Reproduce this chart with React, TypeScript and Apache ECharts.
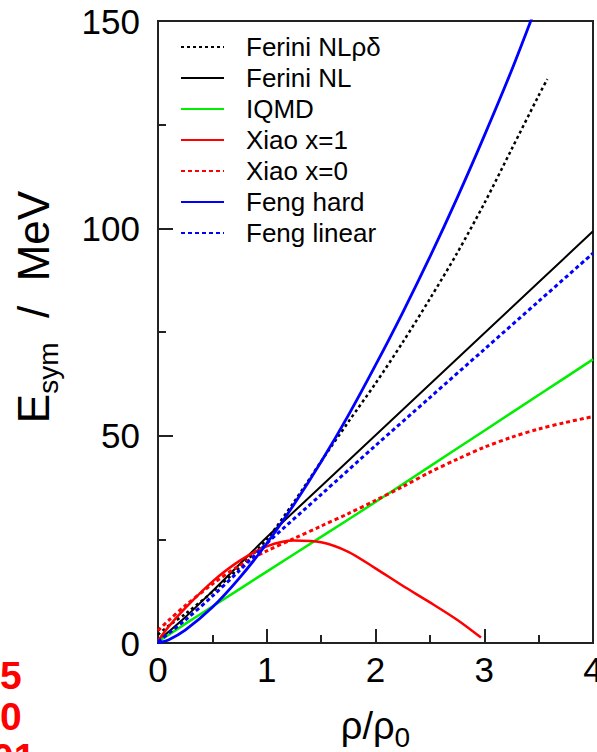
import React, { useEffect, useRef } from "react";
import * as echarts from "echarts";

const FONT = '"Liberation Sans", Arial, Helvetica, sans-serif';

const legendNames = ["Ferini NLρδ", "Ferini NL", "IQMD", "Xiao x=1", "Xiao x=0", "Feng hard", "Feng linear"];

const rhoFeriniRD = [0, 0.1, 0.25, 0.5, 0.75, 1, 1.25, 1.5, 1.75, 2, 2.25, 2.5, 2.75, 3, 3.25, 3.5, 3.58];
const eFeriniRD = [2, 4.2, 7, 12.3, 18.2, 25, 34, 43.8, 53.3, 62.6, 72.5, 83, 94, 106, 119, 132, 136];

const rhoFeriniNL = [0, 0.25, 0.5, 0.75, 1, 1.5, 2, 2.5, 3, 3.5, 4];
const eFeriniNL = [0.5, 6.2, 12.5, 19, 25.5, 37.8, 50.1, 62.4, 74.7, 87, 99.3];

const rhoIQMD = [0, 0.25, 0.5, 1, 1.5, 2, 2.5, 3, 3.5, 4];
const eIQMD = [0.3, 4.6, 8.8, 17.2, 25.6, 34, 42.6, 51.2, 59.8, 68.4];

const rhoXiao1 = [0, 0.1, 0.25, 0.5, 0.75, 1, 1.25, 1.5, 1.75, 2, 2.25, 2.5, 2.75, 2.97];
const eXiao1 = [0.5, 4, 8.4, 14.8, 19.8, 23.3, 24.7, 24.3, 22, 18, 13.8, 9.8, 5.6, 1.3];

const rhoXiao0 = [0, 0.1, 0.25, 0.5, 0.75, 1, 1.25, 1.5, 1.75, 2, 2.25, 2.5, 2.75, 3, 3.25, 3.5, 3.75, 4];
const eXiao0 = [3, 5.5, 9, 14.2, 18.7, 22.2, 25.2, 28.2, 31.2, 34.4, 37.7, 41.2, 44.3, 47.2, 49.6, 51.6, 53.2, 54.6];

const rhoFengHard = [0, 0.1, 0.25, 0.5, 0.75, 1, 1.25, 1.5, 1.75, 2, 2.25, 2.5, 2.75, 3, 3.25, 3.5];
const eFengHard = [0, 0.8, 3.1, 8.6, 15.7, 24, 33.4, 43.7, 54.9, 67, 79.7, 93.1, 107.3, 122.3, 138, 155];

const rhoFengLin = [0, 0.25, 0.5, 0.75, 1, 1.5, 2, 2.5, 3, 3.5, 4];
const eFengLin = [0.3, 5.5, 11.3, 17.5, 24, 35.8, 47.6, 59.2, 70.8, 82.4, 94];

const sideLabels = ["5", "0", "01"];

const zip = (xs: number[], ys: number[]) => xs.map((x, i) => [x, ys[i]]);

export default function App() {
  const ref = useRef<HTMLDivElement>(null);
  useEffect(() => {
    if (!ref.current) return;
    const chart = echarts.init(ref.current, undefined, { renderer: "svg" });
    const mk = (name: string, xs: number[], ys: number[], color: string, type: any, width: number) => ({
      name,
      type: "line",
      data: zip(xs, ys),
      symbol: "none",
      showSymbol: false,
      smooth: 0.3,
      clip: true,
      lineStyle: { color, type, width, cap: "butt" },
      itemStyle: { color },
    });
    chart.setOption({
      animation: false,
      backgroundColor: "#fff",
      grid: {
        left: 158,
        top: 21,
        width: 435,
        height: 622,
        show: true,
        borderColor: "#222",
        borderWidth: 2,
        backgroundColor: "transparent",
        containLabel: false,
        outerBoundsMode: "none",
      },
      legend: {
        orient: "vertical",
        left: 180,
        top: 34,
        padding: 0,
        itemWidth: 43,
        itemHeight: 12,
        itemGap: 5,
        data: legendNames,
        itemStyle: { opacity: 0 },
        textStyle: { fontSize: 26, fontFamily: FONT, color: "#000", lineHeight: 26, padding: [0, 0, 0, 17] },
      },
      xAxis: {
        type: "value",
        min: 0,
        max: 4,
        interval: 1,
        name: "{a|ρ/ρ}{b|0}",
        nameLocation: "middle",
        nameGap: 58,
        nameTextStyle: {
          rich: {
            a: { fontSize: 38, fontFamily: FONT, color: "#000" },
            b: { fontSize: 28, fontFamily: FONT, color: "#000", padding: [22, 0, 0, 0] },
          },
        },
        axisLine: { show: false },
        axisTick: { show: true, inside: true, length: 14, lineStyle: { color: "#222", width: 2 } },
        minorTick: { show: true, splitNumber: 2, length: 8, lineStyle: { color: "#222", width: 2 } },
        splitLine: { show: false },
        axisLabel: { fontSize: 35, fontFamily: FONT, color: "#000", margin: 9 },
      },
      yAxis: {
        type: "value",
        min: 0,
        max: 150,
        interval: 50,
        name: "{e|E}{b|sym}{a|  /  MeV}",
        nameLocation: "middle",
        nameGap: 96,
        nameTextStyle: {
          rich: {
            e: { fontSize: 44, fontFamily: FONT, color: "#000", padding: [0, 0, 0, 50] },
            a: { fontSize: 44, fontFamily: FONT, color: "#000" },
            b: { fontSize: 28, fontFamily: FONT, color: "#000", padding: [30, 0, 0, 0] },
          },
        },
        axisLine: { show: false },
        axisTick: { show: true, inside: true, length: 15, lineStyle: { color: "#222", width: 2 } },
        minorTick: { show: true, splitNumber: 2, length: 8, lineStyle: { color: "#222", width: 2 } },
        splitLine: { show: false },
        axisLabel: { fontSize: 35, fontFamily: FONT, color: "#000", margin: 18 },
      },
      graphic: sideLabels.map((t, i) => ({
        type: "text",
        x: i === 2 ? -8 : 0,
        y: 675 + i * 41,
        style: { text: t, fill: "#ff0000", font: `bold 39px ${FONT}`, textAlign: "left", textVerticalAlign: "middle" },
      })),
      series: [
        mk(legendNames[0], rhoFeriniRD, eFeriniRD, "#000000", [3, 3], 2.5),
        mk(legendNames[1], rhoFeriniNL, eFeriniNL, "#000000", "solid", 2),
        mk(legendNames[2], rhoIQMD, eIQMD, "#00ee00", "solid", 2.5),
        mk(legendNames[3], rhoXiao1, eXiao1, "#ff0000", "solid", 2.5),
        mk(legendNames[4], rhoXiao0, eXiao0, "#ff0000", [4, 3], 3),
        mk(legendNames[5], rhoFengHard, eFengHard, "#0000ff", "solid", 2.8),
        mk(legendNames[6], rhoFengLin, eFengLin, "#0000ff", [4, 3], 3),
      ],
    });
    return () => chart.dispose();
  }, []);
  return <div ref={ref} style={{ position: "fixed", left: 0, top: 0, width: 597, height: 752 }} />;
}
